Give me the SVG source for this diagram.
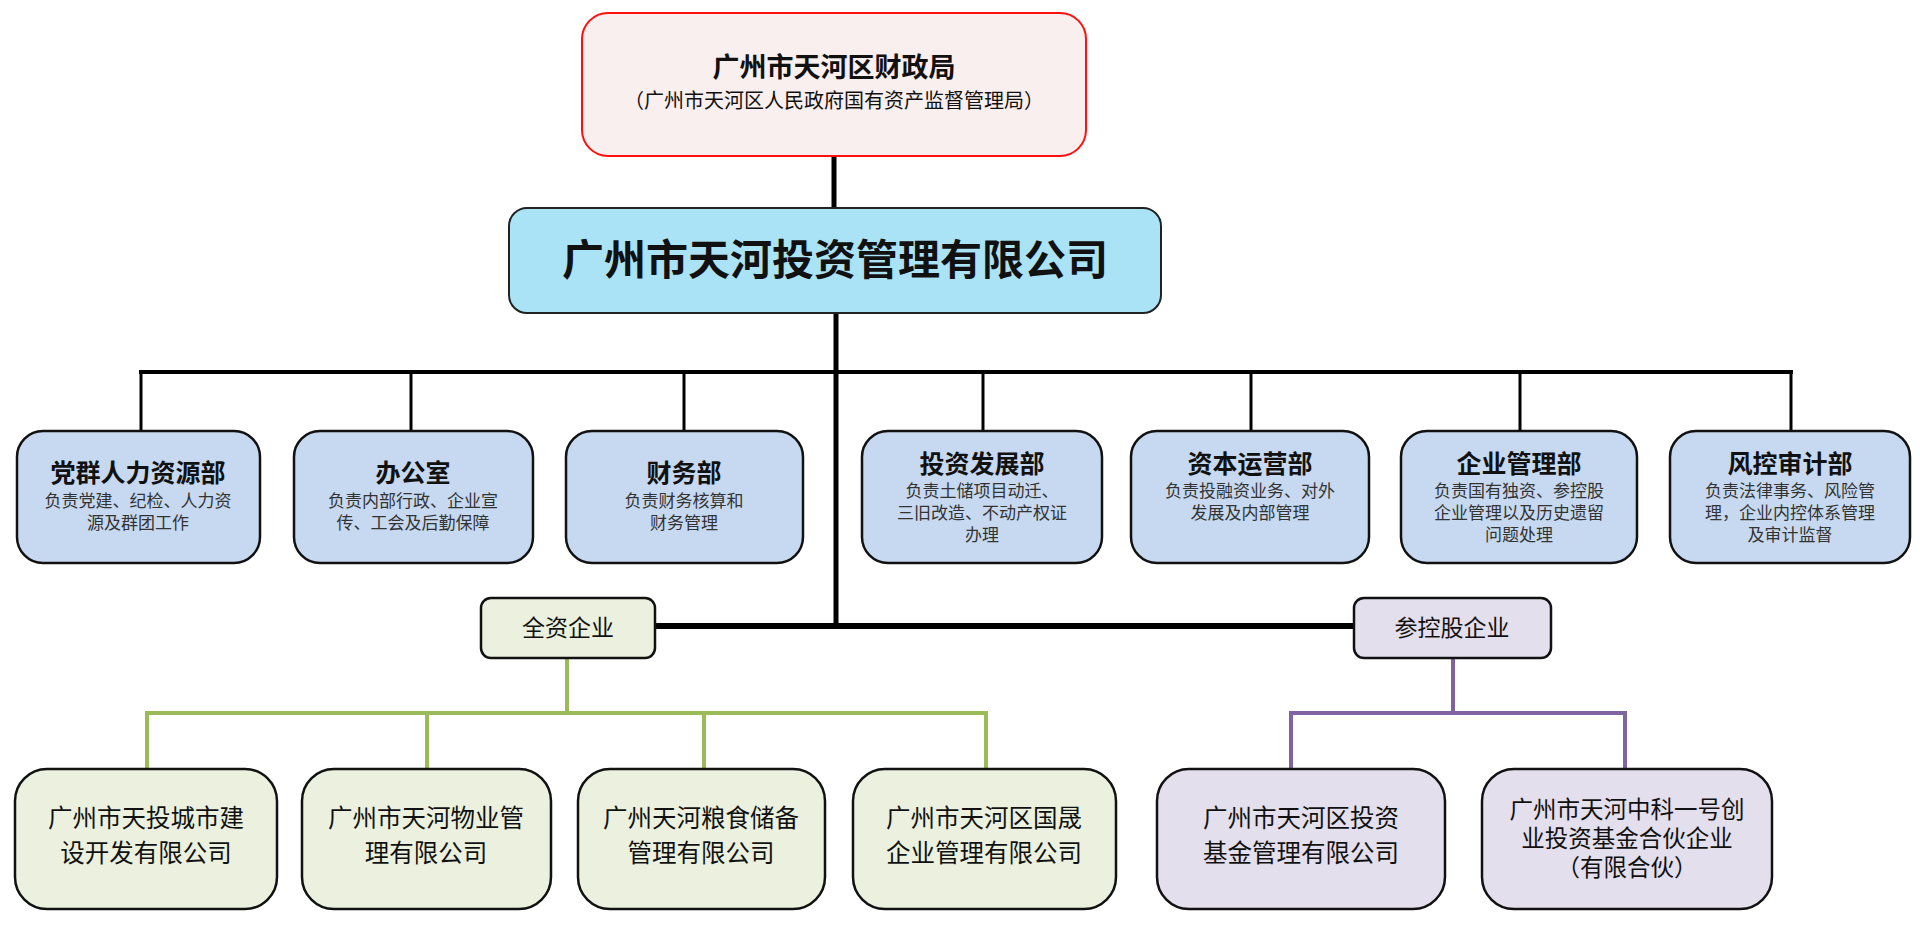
<svg xmlns="http://www.w3.org/2000/svg" width="1920" height="925" viewBox="0 0 1920 925">
<style>
text{font-family:"Liberation Serif","Noto Sans CJK SC",serif;text-anchor:middle;fill:#111}
.t1{font-size:27px;font-weight:700}
.t1s{font-size:20px}
.tm{font-size:42px;font-weight:700}
.dt{font-size:25px;font-weight:700}
.dd{font-size:17px;fill:#333}
.gt{font-size:23px}
.bt{font-size:24.5px}
.bt6{font-size:23.5px}
.top{fill:#F9EFEE;stroke:#FF1010;stroke-width:2}
.main{fill:#ABE3F6;stroke:#222;stroke-width:2}
.dept{fill:#C6D9F0;stroke:#111;stroke-width:2.5}
.grn{fill:#EBF1DE;stroke:#111;stroke-width:2.5}
.pur{fill:#E4DFEC;stroke:#111;stroke-width:2.5}
.k{stroke:#000;fill:none}
.g{stroke:#9BBB59;stroke-width:4;fill:none}
.p{stroke:#8064A2;stroke-width:4;fill:none}
</style>
<rect width="1920" height="925" fill="#fff"/>
<g id="connectors">
<line class="k" x1="834" y1="156" x2="834" y2="208" stroke-width="5"/>
<line class="k" x1="836" y1="313" x2="836" y2="628" stroke-width="5"/>
<line class="k" x1="139" y1="372" x2="1793" y2="372" stroke-width="4"/>
<line class="k" x1="141" y1="372" x2="141" y2="431" stroke-width="3"/>
<line class="k" x1="411" y1="372" x2="411" y2="431" stroke-width="3"/>
<line class="k" x1="684" y1="372" x2="684" y2="431" stroke-width="3"/>
<line class="k" x1="983" y1="372" x2="983" y2="431" stroke-width="3"/>
<line class="k" x1="1251" y1="372" x2="1251" y2="431" stroke-width="3"/>
<line class="k" x1="1520" y1="372" x2="1520" y2="431" stroke-width="3"/>
<line class="k" x1="1791" y1="372" x2="1791" y2="431" stroke-width="3"/>
<line class="k" x1="655" y1="626" x2="1354" y2="626" stroke-width="6"/>
<line class="g" x1="567" y1="658" x2="567" y2="713"/>
<line class="g" x1="145" y1="713" x2="988" y2="713"/>
<line class="g" x1="147" y1="713" x2="147" y2="769"/>
<line class="g" x1="427" y1="713" x2="427" y2="769"/>
<line class="g" x1="704" y1="713" x2="704" y2="769"/>
<line class="g" x1="986" y1="713" x2="986" y2="769"/>
<line class="p" x1="1453" y1="658" x2="1453" y2="713"/>
<line class="p" x1="1289" y1="713" x2="1627" y2="713"/>
<line class="p" x1="1291" y1="713" x2="1291" y2="769"/>
<line class="p" x1="1625" y1="713" x2="1625" y2="769"/>
</g>
<g id="n-caizheng">
<rect class="top" x="582" y="13" width="504" height="143" rx="26"/>
<text class="t1" x="834" y="77">广州市天河区财政局</text>
<text class="t1s" x="834" y="108">（广州市天河区人民政府国有资产监督管理局）</text>
</g>
<g id="n-main">
<rect class="main" x="509" y="208" width="652" height="105" rx="18"/>
<text class="tm" x="835" y="275">广州市天河投资管理有限公司</text>
</g>
<g id="n-d1">
<rect class="dept" x="17" y="431" width="243" height="132" rx="26"/>
<text class="dt" x="138" y="482">党群人力资源部</text>
<text class="dd" x="138" y="507">负责党建、纪检、人力资</text>
<text class="dd" x="138" y="529">源及群团工作</text>
</g>
<g id="n-d2">
<rect class="dept" x="294" y="431" width="239" height="132" rx="26"/>
<text class="dt" x="413" y="482">办公室</text>
<text class="dd" x="413" y="507">负责内部行政、企业宣</text>
<text class="dd" x="413" y="529">传、工会及后勤保障</text>
</g>
<g id="n-d3">
<rect class="dept" x="566" y="431" width="237" height="132" rx="26"/>
<text class="dt" x="684" y="482">财务部</text>
<text class="dd" x="684" y="507">负责财务核算和</text>
<text class="dd" x="684" y="529">财务管理</text>
</g>
<g id="n-d4">
<rect class="dept" x="862" y="431" width="240" height="132" rx="26"/>
<text class="dt" x="982" y="473">投资发展部</text>
<text class="dd" x="982" y="497">负责土储项目动迁、</text>
<text class="dd" x="982" y="519">三旧改造、不动产权证</text>
<text class="dd" x="982" y="541">办理</text>
</g>
<g id="n-d5">
<rect class="dept" x="1131" y="431" width="238" height="132" rx="26"/>
<text class="dt" x="1250" y="473">资本运营部</text>
<text class="dd" x="1250" y="497">负责投融资业务、对外</text>
<text class="dd" x="1250" y="519">发展及内部管理</text>
</g>
<g id="n-d6">
<rect class="dept" x="1401" y="431" width="236" height="132" rx="26"/>
<text class="dt" x="1519" y="473">企业管理部</text>
<text class="dd" x="1519" y="497">负责国有独资、参控股</text>
<text class="dd" x="1519" y="519">企业管理以及历史遗留</text>
<text class="dd" x="1519" y="541">问题处理</text>
</g>
<g id="n-d7">
<rect class="dept" x="1670" y="431" width="240" height="132" rx="26"/>
<text class="dt" x="1790" y="473">风控审计部</text>
<text class="dd" x="1790" y="497">负责法律事务、风险管</text>
<text class="dd" x="1790" y="519">理，企业内控体系管理</text>
<text class="dd" x="1790" y="541">及审计监督</text>
</g>
<g id="n-quanzi">
<rect class="grn" x="481" y="598" width="174" height="60" rx="10"/>
<text class="gt" x="568" y="636">全资企业</text>
</g>
<g id="n-cankong">
<rect class="pur" x="1354" y="598" width="197" height="60" rx="10"/>
<text class="gt" x="1452" y="636">参控股企业</text>
</g>
<g id="n-c1">
<rect class="grn" x="15" y="769" width="262" height="140" rx="32"/>
<text class="bt" x="146" y="827">广州市天投城市建</text>
<text class="bt" x="146" y="862">设开发有限公司</text>
</g>
<g id="n-c2">
<rect class="grn" x="302" y="769" width="249" height="140" rx="32"/>
<text class="bt" x="426" y="827">广州市天河物业管</text>
<text class="bt" x="426" y="862">理有限公司</text>
</g>
<g id="n-c3">
<rect class="grn" x="578" y="769" width="247" height="140" rx="32"/>
<text class="bt" x="701" y="827">广州天河粮食储备</text>
<text class="bt" x="701" y="862">管理有限公司</text>
</g>
<g id="n-c4">
<rect class="grn" x="853" y="769" width="263" height="140" rx="32"/>
<text class="bt" x="984" y="827">广州市天河区国晟</text>
<text class="bt" x="984" y="862">企业管理有限公司</text>
</g>
<g id="n-c5">
<rect class="pur" x="1157" y="769" width="288" height="140" rx="32"/>
<text class="bt" x="1301" y="827">广州市天河区投资</text>
<text class="bt" x="1301" y="862">基金管理有限公司</text>
</g>
<g id="n-c6">
<rect class="pur" x="1482" y="769" width="290" height="140" rx="32"/>
<text class="bt6" x="1627" y="818">广州市天河中科一号创</text>
<text class="bt6" x="1627" y="847">业投资基金合伙企业</text>
<text class="bt6" x="1627" y="876">（有限合伙）</text>
</g>
</svg>
